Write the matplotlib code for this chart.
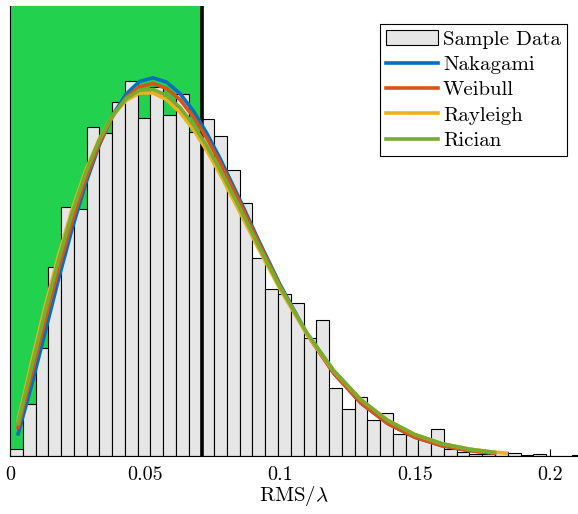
import numpy as np
import matplotlib
matplotlib.use("Agg")
import matplotlib.pyplot as plt

plt.rcParams['font.family'] = 'serif'
plt.rcParams['font.serif'] = ['cmr10']
plt.rcParams['mathtext.fontset'] = 'cm'
plt.rcParams['axes.unicode_minus'] = False

# histogram of the sample data (pdf-normalised bar heights)
bin_width = 0.00473
bar_heights = [0.23, 1.72, 3.56, 6.24, 8.22, 8.15, 10.86, 10.66, 11.68, 12.38,
               11.16, 12.18, 11.25, 11.95, 10.69, 11.12, 10.56, 9.44, 8.35, 6.53,
               5.51, 5.35, 5.05, 3.89, 4.49, 2.24, 1.55, 1.95, 1.19, 1.42,
               0.73, 0.69, 0.59, 0.89, 0.23, 0.13, 0.07, 0.07, 0.13, 0.10,
               0.02, 0.07, 0.0, 0.0, 0.03]

# fitted pdfs
x_fit = [0.003, 0.008, 0.013, 0.018, 0.023, 0.028, 0.033, 0.038, 0.043, 0.048,
         0.053, 0.058, 0.063, 0.068, 0.073, 0.078, 0.085, 0.092, 0.100, 0.110,
         0.120, 0.130, 0.140, 0.150, 0.160, 0.170, 0.1796]
nakagami = [0.73, 2.33, 4.08, 5.84, 7.49, 8.98, 10.24, 11.24, 11.94, 12.36,
            12.48, 12.34, 11.96, 11.38, 10.64, 9.79, 8.49, 7.14, 5.67, 4.04,
            2.73, 1.75, 1.07, 0.62, 0.34, 0.18, 0.09]
weibull = [0.94, 2.69, 4.46, 6.17, 7.74, 9.13, 10.29, 11.20, 11.83, 12.19,
           12.29, 12.13, 11.76, 11.19, 10.48, 9.65, 8.39, 7.08, 5.63, 4.03,
           2.73, 1.75, 1.07, 0.62, 0.34, 0.18, 0.09]
rician = [1.07, 2.93, 4.75, 6.46, 8.00, 9.33, 10.41, 11.24, 11.79, 12.07,
          12.10, 11.90, 11.50, 10.93, 10.22, 9.42, 8.21, 6.96, 5.59, 4.07,
          2.82, 1.86, 1.17, 0.71, 0.41, 0.23, 0.12]
x_rayleigh = x_fit[:-1] + [0.178, 0.184]
rayleigh = [1.17, 3.10, 4.93, 6.62, 8.13, 9.41, 10.45, 11.23, 11.73, 11.98,
            11.98, 11.76, 11.34, 10.77, 10.07, 9.28, 8.08, 6.86, 5.52, 4.02,
            2.80, 1.86, 1.18, 0.71, 0.41, 0.23, 0.14, 0.095]

threshold = 0.071
tick_vals = [0, 0.05, 0.1, 0.15, 0.2]
tick_labels = ['0', '0.05', '0.1', '0.15', '0.2']

fig = plt.figure(figsize=(5.78, 5.14), dpi=100)
ax = fig.add_axes([10 / 578, 58 / 514, 568 / 578, 450 / 514])

ax.axvspan(0, threshold, color='#22D14E', zorder=0)

edges = np.arange(len(bar_heights)) * bin_width
bars = ax.bar(edges, bar_heights, width=bin_width, align='edge', color='#E6E6E6',
              edgecolor='black', linewidth=0.8, label='Sample Data', zorder=1)

ax.axvline(threshold, color='black', linewidth=2.6, zorder=2)

l1, = ax.plot(x_fit, nakagami, color='#0072BD', lw=2.6, label='Nakagami', zorder=3)
l2, = ax.plot(x_fit, weibull, color='#D95319', lw=2.6, label='Weibull', zorder=3)
l3, = ax.plot(x_rayleigh, rayleigh, color='#EDB120', lw=2.6, label='Rayleigh', zorder=3)
l4, = ax.plot(x_fit, rician, color='#77AC30', lw=2.6, label='Rician', zorder=3)

ax.set_xlim(0, 0.2105)
ax.set_ylim(0, 14.85)
ax.set_yticks([])
ax.set_xticks(tick_vals)
ax.set_xticklabels(tick_labels)
ax.tick_params(axis='x', direction='in', length=5, labelsize=14.5, pad=7)
ax.set_axisbelow(True)
ax.spines['top'].set_visible(False)
ax.spines['right'].set_visible(False)
ax.set_xlabel(r'RMS/$\lambda$', fontsize=15, labelpad=0)

leg = ax.legend([bars, l1, l2, l3, l4],
                ['Sample Data', 'Nakagami', 'Weibull', 'Rayleigh', 'Rician'],
                loc='upper right', bbox_to_anchor=(0.981, 0.96), fontsize=15,
                frameon=True, fancybox=False, edgecolor='black', framealpha=1,
                borderaxespad=0, handlelength=2.5, handletextpad=0.25,
                labelspacing=0.32, borderpad=0.3)
leg.get_frame().set_linewidth(0.8)

fig.savefig('out.png', dpi=100)
